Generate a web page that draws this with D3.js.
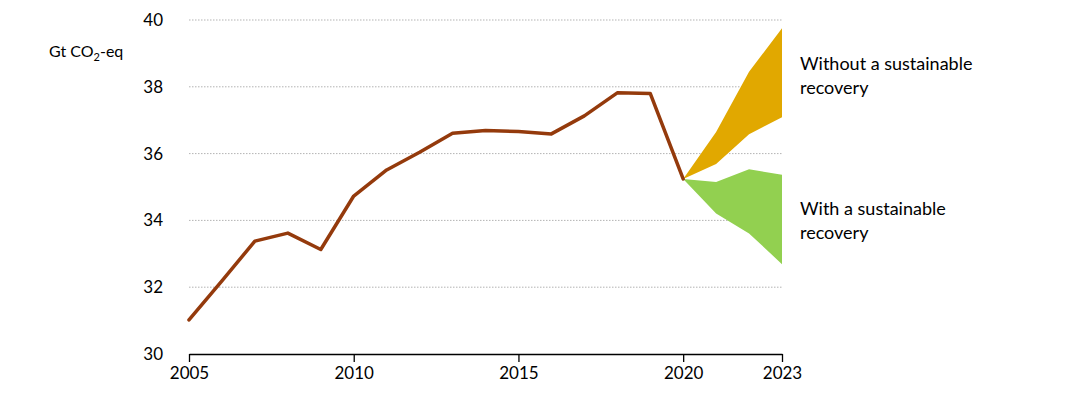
<!DOCTYPE html>
<html>
<head>
<meta charset="utf-8">
<script src="https://cdn.jsdelivr.net/npm/d3@7"></script>
<style>
  body { margin: 0; background: #fff; }
  text { font-family: Lato, "Open Sans", sans-serif; fill: #000; }
</style>
</head>
<body>
<div id="wrapper"></div>
<script>
// historical emissions, Gt CO2-eq
const years = [2005, 2006, 2007, 2008, 2009, 2010, 2011, 2012, 2013, 2014, 2015, 2016, 2017, 2018, 2019, 2020]
const emissions = [31.02, 32.19, 33.38, 33.62, 33.13, 34.73, 35.51, 36.04, 36.61, 36.69, 36.66, 36.59, 37.13, 37.82, 37.80, 35.24]

// projection bands
const projYears = [2020, 2021, 2022, 2023]
const withoutHigh = [35.24, 36.65, 38.45, 39.75]
const withoutLow = [35.24, 35.69, 36.58, 37.09]
const withHigh = [35.24, 35.15, 35.53, 35.37]
const withLow = [35.24, 34.21, 33.61, 32.69]

const yTicks = [30, 32, 34, 36, 38, 40]
const xTicks = [2005, 2010, 2015, 2020, 2023]

const dimensions = {
  width: 1080,
  height: 397,
  margin: { top: 20, right: 298, bottom: 43, left: 189 },
}
dimensions.boundedWidth = dimensions.width - dimensions.margin.left - dimensions.margin.right
dimensions.boundedHeight = dimensions.height - dimensions.margin.top - dimensions.margin.bottom

const wrapper = d3.select("#wrapper")
  .append("svg")
  .attr("width", dimensions.width)
  .attr("height", dimensions.height)

const bounds = wrapper.append("g")
  .attr("transform", `translate(${dimensions.margin.left},${dimensions.margin.top})`)

const xScale = d3.scaleLinear()
  .domain([2005, 2023])
  .range([0, dimensions.boundedWidth])

const yScale = d3.scaleLinear()
  .domain([30, 40])
  .range([dimensions.boundedHeight, 0])

// gridlines
bounds.append("g")
  .selectAll("line")
  .data(yTicks.filter(d => d > 30))
  .join("line")
  .attr("x1", 0)
  .attr("x2", dimensions.boundedWidth)
  .attr("y1", d => yScale(d))
  .attr("y2", d => yScale(d))
  .attr("stroke", "#b3b3b3")
  .attr("stroke-width", 1)
  .attr("stroke-dasharray", "1.5,1.5")

// y tick labels
bounds.append("g")
  .selectAll("text")
  .data(yTicks)
  .join("text")
  .attr("x", -26)
  .attr("y", d => yScale(d))
  .attr("dy", "0.35em")
  .attr("text-anchor", "end")
  .style("font-size", "17px")
  .text(d => d)

// y axis title
const title = wrapper.append("text")
  .attr("x", 49)
  .attr("y", 57)
  .style("font-size", "16px")
title.append("tspan").text("Gt CO")
title.append("tspan").attr("dy", 4).style("font-size", "11px").text("2")
title.append("tspan").attr("dy", -4).text("-eq")

// bands
const bandData = (high, low) => projYears.map((y, i) => ({ year: y, high: high[i], low: low[i] }))
const areaGenerator = d3.area()
  .x(d => xScale(d.year))
  .y0(d => yScale(d.low))
  .y1(d => yScale(d.high))

bounds.append("path")
  .datum(bandData(withoutHigh, withoutLow))
  .attr("d", areaGenerator)
  .attr("fill", "#e1a800")

bounds.append("path")
  .datum(bandData(withHigh, withLow))
  .attr("d", areaGenerator)
  .attr("fill", "#92d050")

// historical line
const lineGenerator = d3.line()
  .x((d, i) => xScale(years[i]))
  .y(d => yScale(d))

bounds.append("path")
  .datum(emissions)
  .attr("d", lineGenerator)
  .attr("fill", "none")
  .attr("stroke", "#943a0c")
  .attr("stroke-width", 3.5)
  .attr("stroke-linejoin", "round")
  .attr("stroke-linecap", "round")

// x axis
const xAxisGenerator = d3.axisBottom(xScale)
  .tickValues(xTicks)
  .tickFormat(d3.format("d"))
  .tickSize(8)
  .tickSizeOuter(0)
  .tickPadding(5)

const xAxis = bounds.append("g")
  .attr("transform", `translate(0,${dimensions.boundedHeight})`)
  .call(xAxisGenerator)

xAxis.select(".domain").attr("stroke", "#000").attr("stroke-width", 1.3)
xAxis.selectAll(".tick line").attr("stroke", "#000").attr("stroke-width", 1.3)
xAxis.selectAll(".tick text")
  .style("font-family", "Lato, 'Open Sans', sans-serif")
  .style("font-size", "17px")
  .attr("fill", "#000")

// labels
const labels = [
  { lines: ["Without a sustainable", "recovery"], y: 70 },
  { lines: ["With a sustainable", "recovery"], y: 215 },
]
labels.forEach(l => {
  wrapper.append("g")
    .selectAll("text")
    .data(l.lines)
    .join("text")
    .attr("x", 800)
    .attr("y", (d, i) => l.y + i * 24)
    .style("font-size", "18px")
    .text(d => d)
})
</script>
</body>
</html>
